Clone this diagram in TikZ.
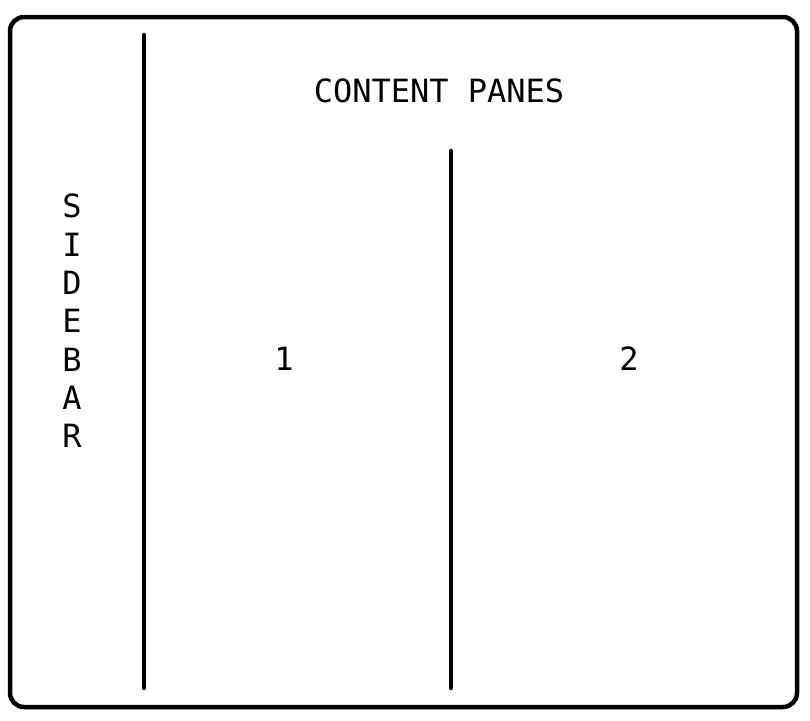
\documentclass[tikz,border=0pt]{standalone}
\usepackage{fontspec}
\setmonofont{DejaVu Sans Mono}
\tikzset{pane/.style={font=\ttfamily\fontsize{32}{38.3}\selectfont,inner sep=0pt}}

\begin{document}
\begin{tikzpicture}[x=1pt,y=-1pt,line width=4.5pt]
  \useasboundingbox (0,0) rectangle (810,720);
  \draw[rounded corners=14pt] (10,17) rectangle (797,707);
  \coordinate (sidetop) at (144,35); \coordinate (sidebot) at (144,688);
  \coordinate (midtop) at (451,151); \coordinate (midbot) at (451,688);
  \draw[line cap=round] (sidetop) -- (sidebot); \draw[line cap=round] (midtop) -- (midbot);
  \node[pane] (title) at (439,91) {CONTENT PANES};
  \node[pane,align=center] (sidebar) at (72,321) {S\\I\\D\\E\\B\\A\\R};
  \node[pane] (one) at (284,359) {1};
  \node[pane] (two) at (629,359) {2};
\end{tikzpicture}
\end{document}
